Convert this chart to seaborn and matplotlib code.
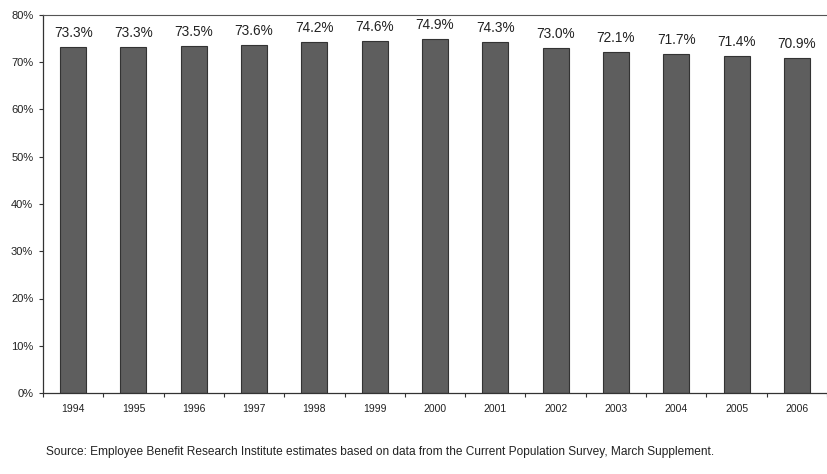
import matplotlib
matplotlib.use("Agg")
import matplotlib.pyplot as plt
import seaborn as sns
import pandas as pd
import numpy as np
from matplotlib.ticker import FixedLocator, PercentFormatter

years = ["1994", "1995", "1996", "1997", "1998", "1999", "2000",
         "2001", "2002", "2003", "2004", "2005", "2006"]
rates = [73.3, 73.3, 73.5, 73.6, 74.2, 74.6, 74.9,
         74.3, 73.0, 72.1, 71.7, 71.4, 70.9]
y_ticks = [0, 10, 20, 30, 40, 50, 60, 70, 80]
source_note = ("Source: Employee Benefit Research Institute estimates based on data "
               "from the Current Population Survey, March Supplement.")

df = pd.DataFrame({"year": years, "rate": rates})

sns.set_theme(style="white")
plt.rcParams["font.family"] = ["Liberation Sans", "DejaVu Sans"]

fig = plt.figure(figsize=(8.28, 4.74), dpi=100)
ax = fig.add_axes([43 / 828, 1 - 393 / 474, 784 / 828, 378 / 474])

sns.barplot(data=df, x="year", y="rate", color="#5e5e5e", width=0.43,
            edgecolor="#333333", linewidth=0.8, saturation=1, ax=ax)

for i, v in enumerate(rates):
    ax.annotate(f"{v:.1f}%", (i, v), xytext=(0, 5), textcoords="offset points",
                ha="center", va="bottom", fontsize=9.8, color="#222222")

ax.set_ylim(0, 80)
ax.set_xlim(-0.5, len(years) - 0.5)
ax.yaxis.set_major_locator(FixedLocator(y_ticks))
ax.yaxis.set_major_formatter(PercentFormatter(decimals=0))
ax.set_xlabel("")
ax.set_ylabel("")

# category boundary ticks on the x axis
ax.xaxis.set_minor_locator(FixedLocator(np.arange(-0.5, len(years), 1.0)))
ax.tick_params(axis="x", which="major", length=0, labelsize=7.5, pad=8,
               labelcolor="#222222")
ax.tick_params(axis="x", which="minor", length=3, width=0.8, color="#333333",
               direction="out", bottom=True)
ax.tick_params(axis="y", which="major", length=3, width=0.8, color="#333333",
               direction="out", left=True, labelsize=8, pad=4,
               labelcolor="#222222")

for side in ["left", "bottom"]:
    ax.spines[side].set_color("#333333")
    ax.spines[side].set_linewidth(0.9)
ax.spines["top"].set_visible(True)
ax.spines["top"].set_color("#555555")
ax.spines["top"].set_linewidth(0.8)
ax.spines["top"].set_linestyle((0, (2, 1)))
ax.spines["right"].set_visible(False)

fig.text(46 / 828, 1 - 452 / 474, source_note, fontsize=8.6, color="#222222",
         ha="left", va="center")

fig.savefig("out.png", dpi=100, facecolor="white")
